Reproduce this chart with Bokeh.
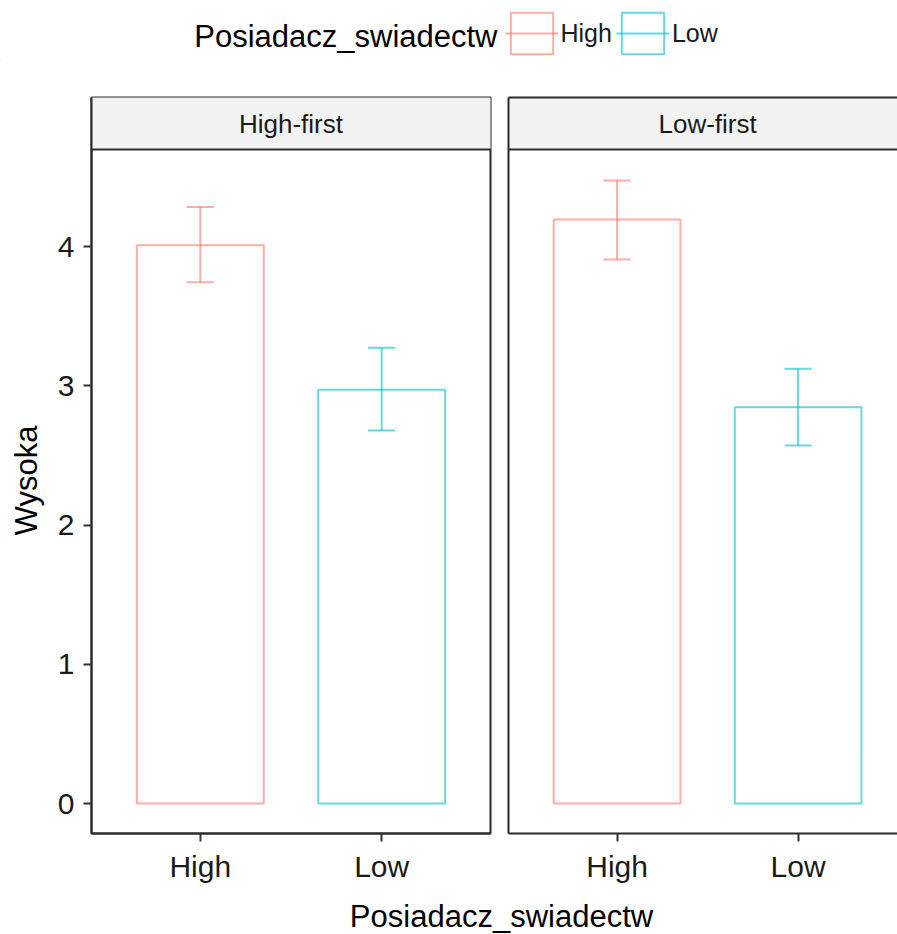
import math
from bokeh.plotting import figure
from bokeh.models import (ColumnDataSource, Range1d, FixedTicker, LinearAxis,
                          Legend, LegendItem)
from bokeh.layouts import row, column
from bokeh.core.properties import value
from bokeh.embed import file_html
from bokeh.resources import INLINE

# ---------------- data ----------------
panel_labels = ["High-first", "Low-first"]
categories = ["High", "Low"]
colors = ["#F8766D", "#00BFC4"]

high_first_mean = [4.01, 2.972]
high_first_lower = [3.745, 2.680]
high_first_upper = [4.285, 3.274]

low_first_mean = [4.195, 2.847]
low_first_lower = [3.908, 2.572]
low_first_upper = [4.476, 3.123]

y_ticks = [0, 1, 2, 3, 4]
x_title = "Posiadacz_swiadectw"
y_title = "Wysoka"
legend_title = "Posiadacz_swiadectw"

# ---------------- style ----------------
FONT = "Liberation Sans"
AX = "#2b2b2b"
Y0, Y1 = -0.2155, 5.072
STRIP_BOTTOM = 4.698
BAR_W = 0.7
CAP_W = 0.15
PANEL_H = 828
LINE_ALPHA = 0.6

positions = [i + 1 for i in range(len(categories))]
tick_over = {p: c for p, c in zip(positions, categories)}


def make_source(means, lower, upper):
    return ColumnDataSource(dict(
        x=positions, top=means, lower=lower, upper=upper,
        cl=[x - CAP_W / 2 for x in positions],
        cr=[x + CAP_W / 2 for x in positions],
        color=colors, cat=categories))


def draw_marks(p, src, **kw):
    bars = p.vbar(x="x", top="top", bottom=0, width=BAR_W, source=src,
                  fill_color=None, line_color="color", line_width=2,
                  line_alpha=LINE_ALPHA, **kw)
    err = p.segment(x0="x", x1="x", y0="lower", y1="upper", source=src,
                    line_color="color", line_width=2, line_alpha=LINE_ALPHA, **kw)
    p.segment(x0="cl", x1="cr", y0="upper", y1="upper", source=src,
              line_color="color", line_width=2, line_alpha=LINE_ALPHA, **kw)
    p.segment(x0="cl", x1="cr", y0="lower", y1="lower", source=src,
              line_color="color", line_width=2, line_alpha=LINE_ALPHA, **kw)
    return bars, err


def make_panel(label, means, lower, upper, first):
    x_end = 2.6 if first else 2.549
    p = figure(width=453 if first else 398, height=PANEL_H,
               x_range=Range1d(0.4, x_end), y_range=Range1d(Y0, Y1),
               output_backend="svg", toolbar_location=None,
               min_border_top=37, min_border_bottom=55,
               min_border_left=45 if first else 9,
               min_border_right=9 if first else 0,
               x_axis_type=None, y_axis_type=None)
    p.grid.visible = False
    p.background_fill_color = "white"
    p.border_fill_color = "white"

    src = make_source(means, lower, upper)

    # facet strip
    p.quad(left=[-10], right=[10], bottom=[STRIP_BOTTOM], top=[10],
           fill_color="#F2F2F2", line_color=AX, line_width=2)
    p.text(x=[sum(positions) / len(positions)], y=[(STRIP_BOTTOM + Y1) / 2],
           text=[label], text_font=value(FONT), text_font_size="26px",
           text_color="#1a1a1a", text_align="center", text_baseline="middle")

    draw_marks(p, src)

    # x axis
    xa = LinearAxis(ticker=FixedTicker(ticks=positions),
                    major_label_overrides=tick_over)
    xa.axis_line_color = AX
    xa.axis_line_width = 2
    xa.major_tick_line_color = "#333333"
    xa.major_tick_line_width = 2
    xa.major_tick_out = 8
    xa.major_tick_in = 0
    xa.minor_tick_line_color = None
    xa.major_label_standoff = 8
    xa.major_label_text_font = FONT
    xa.major_label_text_font_size = "30px"
    xa.major_label_text_color = "#1a1a1a"
    p.add_layout(xa, "below")

    # y axis
    if first:
        ya = LinearAxis(ticker=FixedTicker(ticks=y_ticks))
        ya.major_tick_line_color = "#333333"
        ya.major_tick_line_width = 2
        ya.major_tick_out = 8
        ya.major_tick_in = 0
        ya.minor_tick_line_color = None
        ya.major_label_standoff = 9
        ya.major_label_text_font = FONT
        ya.major_label_text_font_size = "30px"
        ya.major_label_text_color = "#1a1a1a"
        p.outline_line_color = AX
        p.outline_line_width = 2
    else:
        ya = LinearAxis(ticker=FixedTicker(ticks=[]))
        ya.major_tick_line_color = None
        ya.minor_tick_line_color = None
        top_ax = LinearAxis(ticker=FixedTicker(ticks=[]))
        top_ax.major_tick_line_color = None
        top_ax.minor_tick_line_color = None
        top_ax.axis_line_color = AX
        top_ax.axis_line_width = 2
        p.add_layout(top_ax, "above")
        p.outline_line_color = None
    ya.axis_line_color = AX
    ya.axis_line_width = 2
    p.add_layout(ya, "left")
    return p


left = make_panel(panel_labels[0], high_first_mean, high_first_lower,
                  high_first_upper, True)
right = make_panel(panel_labels[1], low_first_mean, low_first_lower,
                   low_first_upper, False)

# ---- y axis title (own strip, centred on the panel below the facet strip) ----
ylab = figure(width=46, height=PANEL_H, x_range=(0, 46), y_range=(0, PANEL_H),
              output_backend="svg", toolbar_location=None, min_border=0,
              x_axis_type=None, y_axis_type=None)
ylab.grid.visible = False
ylab.outline_line_color = None
ylab.text(x=[26], y=[397], text=[y_title], angle=math.pi / 2,
          text_font=value(FONT), text_font_size="31px", text_color="black",
          text_align="center", text_baseline="middle")

# ---- legend row ----
top = figure(width=897, height=60, x_range=(0, 897), y_range=(0, 60),
             output_backend="svg", toolbar_location=None, min_border=0,
             x_axis_type=None, y_axis_type=None)
top.grid.visible = False
top.outline_line_color = None
# legend key renderers live on ranges far outside the view
top.extra_y_ranges = {"hidden": Range1d(1000, 1001)}
top.extra_x_ranges = {"hidden": Range1d(1000, 1001)}
top.text(x=[497], y=[24], text=[legend_title], text_font=value(FONT),
         text_font_size="31px", text_color="black", text_align="right",
         text_baseline="middle")
leg_bars, leg_err = draw_marks(top, make_source(low_first_mean, low_first_lower,
                                                low_first_upper),
                               y_range_name="hidden", x_range_name="hidden")
items = [LegendItem(label=c, renderers=[leg_bars, leg_err], index=i)
         for i, c in enumerate(categories)]
legend = Legend(items=items, orientation="horizontal",
                location=(504.5, 1), glyph_width=53, glyph_height=52,
                label_standoff=3, spacing=4, padding=0, margin=0,
                border_line_color=None, background_fill_alpha=0,
                label_text_font=FONT, label_text_font_size="25px",
                label_text_color="#1a1a1a")
top.add_layout(legend, "center")

# ---- x axis title spanning both panels ----
bottom = figure(width=897, height=45, x_range=(0, 897), y_range=(0, 45),
                output_backend="svg", toolbar_location=None, min_border=0,
                x_axis_type=None, y_axis_type=None)
bottom.grid.visible = False
bottom.outline_line_color = None
bottom.text(x=[501], y=[17], text=[x_title], text_font=value(FONT),
            text_font_size="31px", text_color="black",
            text_align="center", text_baseline="middle")

layout = column(top, row(ylab, left, right), bottom)

open("out.html", "w").write(file_html(layout, INLINE))
